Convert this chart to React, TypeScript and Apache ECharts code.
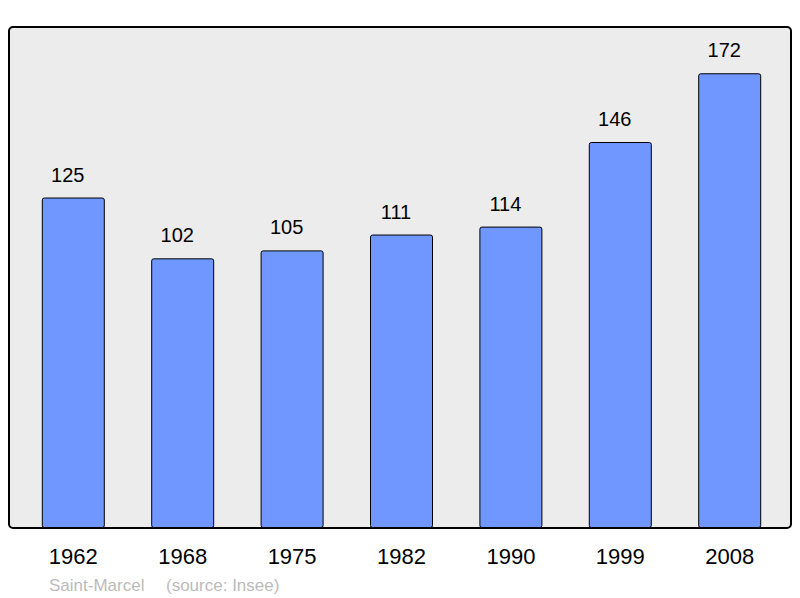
import React, { useEffect, useRef } from "react";
import * as echarts from "echarts";

const years = ["1962", "1968", "1975", "1982", "1990", "1999", "2008"];
const population = [125, 102, 105, 111, 114, 146, 172];
const commune = "Saint-Marcel";
const source = "(source: Insee)";

export default function App() {
  const ref = useRef<HTMLDivElement>(null);
  useEffect(() => {
    if (!ref.current) return;
    const chart = echarts.init(ref.current, null, { renderer: "svg" });
    chart.setOption({
      animation: false,
      backgroundColor: "#ffffff",
      textStyle: { fontFamily: "Liberation Sans, Arial, sans-serif" },
      grid: { left: 18.6, right: 15.6, top: 27, bottom: 70 },
      xAxis: {
        type: "category",
        data: years,
        axisLine: { show: false },
        axisTick: { show: false },
        axisLabel: { color: "#000", fontSize: 22, margin: 17 },
      },
      yAxis: {
        type: "value",
        min: 0,
        max: 189.5,
        show: false,
        splitLine: { show: false },
      },
      graphic: [
        {
          type: "rect",
          z: 0,
          shape: { x: 9, y: 27, width: 782, height: 501, r: 4 },
          style: { fill: "#ececec", stroke: "#000", lineWidth: 2 },
        },
        {
          type: "text",
          x: 49,
          y: 585,
          style: {
            text: commune,
            fill: "#bbbbbb",
            fontSize: 17,
            fontFamily: "Liberation Sans, Arial, sans-serif",
            verticalAlign: "middle",
          },
        },
        {
          type: "text",
          x: 166,
          y: 585,
          style: {
            text: source,
            fill: "#bbbbbb",
            fontSize: 17,
            fontFamily: "Liberation Sans, Arial, sans-serif",
            verticalAlign: "middle",
          },
        },
      ],
      series: [
        {
          type: "bar",
          data: population,
          barWidth: 63,
          z: 5,
          itemStyle: {
            color: "#7097ff",
            borderColor: "#000",
            borderWidth: 1,
            borderRadius: 2,
          },
          label: {
            show: true,
            position: "top",
            distance: 13,
            offset: [-5.5, 0],
            color: "#000",
            fontSize: 20,
          },
        },
      ],
    });
    return () => chart.dispose();
  }, []);
  return <div ref={ref} style={{ width: 800, height: 598, position: "absolute", left: 0, top: 0 }} />;
}
